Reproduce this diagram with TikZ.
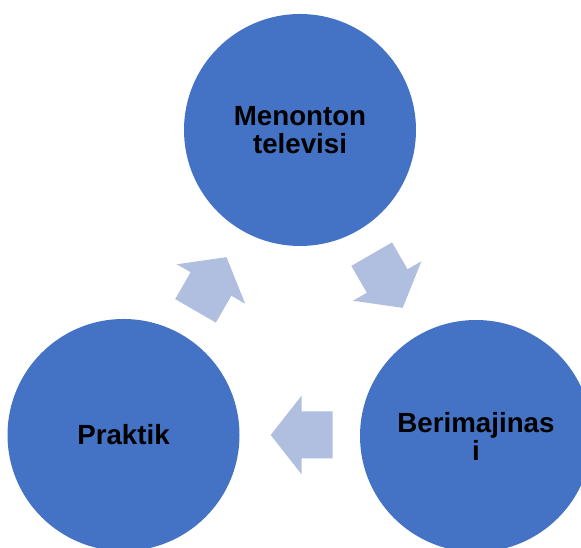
\documentclass[tikz,border=0pt]{standalone}
\usepackage{fontspec}
\setmainfont{Liberation Sans}
\definecolor{circblue}{HTML}{4472C4}
\definecolor{arrowblue}{RGB}{176,190,223}
\begin{document}
\begin{tikzpicture}[
    x=1pt,y=1pt,
    stage/.style={
        circle,
        fill=circblue,
        minimum size=232pt,
        inner sep=0pt,
        font=\fontsize{27.7}{28}\selectfont\bfseries,
        align=center,
        text=black
    },
    cyclearrow/.pic={
        \fill[arrowblue] (-31,-23.5) -- (0,-23.5) -- (0,-39.5) -- (31,0)
            -- (0,39.5) -- (0,23.5) -- (-31,23.5) -- cycle;
    }
]
    \useasboundingbox (0,0) rectangle (581,548);
    \clip (0,0) rectangle (581,548);

    % stages
    \node[stage] (tv) at (300,418) {Menonton\\televisi};
    \node[stage] (imaj) at (476,112) {Berimajinas\\i};
    \node[stage] (praktik) at (123.5,113) {Praktik};

    % cycle arrows
    \pic[rotate=-60] at (387.2,267) {cyclearrow};
    \pic[rotate=180] at (301.7,113) {cyclearrow};
    \pic[rotate=60] at (211,264) {cyclearrow};

\end{tikzpicture}
\end{document}
